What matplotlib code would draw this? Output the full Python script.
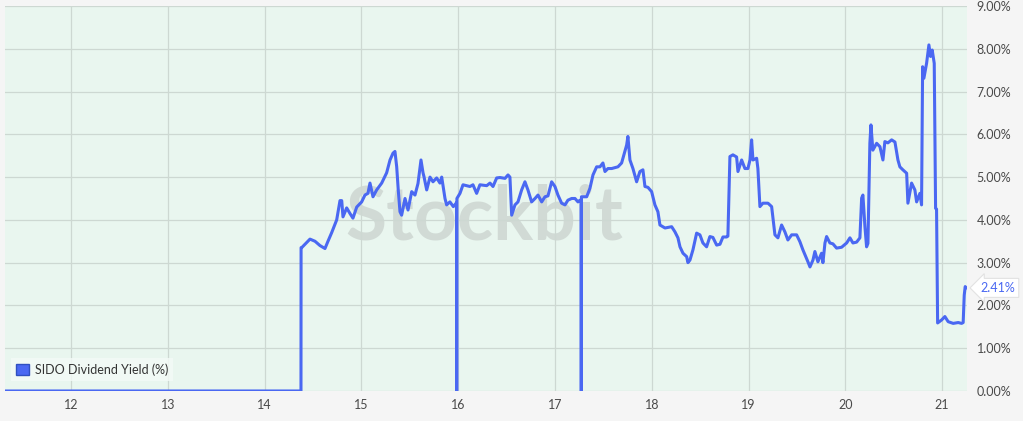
import matplotlib
matplotlib.use('Agg')
import matplotlib.pyplot as plt
from matplotlib.patches import Patch
import matplotlib.transforms as mtransforms

plt.rcParams['font.family'] = ['Lato', 'DejaVu Sans']

# time in years (12 = 2012), dividend yield in %
years = [
    11.318, 14.376, 14.377, 14.383, 14.469, 14.521, 14.572, 14.624, 14.655,
    14.693, 14.745, 14.779, 14.797, 14.810, 14.848, 14.882, 14.913, 14.952,
    15.003, 15.037, 15.068, 15.089, 15.120, 15.158, 15.210, 15.261, 15.296,
    15.327, 15.347, 15.365, 15.381, 15.399, 15.416, 15.451, 15.482, 15.520,
    15.554, 15.585, 15.616, 15.637, 15.647, 15.675, 15.709, 15.740, 15.778,
    15.812, 15.830, 15.864, 15.881, 15.915, 15.950, 15.983, 15.985, 15.987,
    16.019, 16.050, 16.122, 16.153, 16.191, 16.225, 16.295, 16.329, 16.360,
    16.398, 16.432, 16.484, 16.515, 16.535, 16.553, 16.587, 16.618, 16.656,
    16.690, 16.721, 16.759, 16.794, 16.825, 16.863, 16.897, 16.928, 16.966,
    17.000, 17.031, 17.069, 17.104, 17.134, 17.173, 17.207, 17.238, 17.258,
    17.270, 17.272, 17.274, 17.290, 17.328, 17.362, 17.393, 17.431, 17.465,
    17.496, 17.517, 17.548, 17.586, 17.620, 17.651, 17.689, 17.723, 17.741,
    17.754, 17.775, 17.793, 17.806, 17.844, 17.878, 17.909, 17.930, 17.961,
    17.999, 18.033, 18.064, 18.085, 18.137, 18.206, 18.240, 18.271, 18.292,
    18.323, 18.361, 18.374, 18.395, 18.426, 18.464, 18.498, 18.529, 18.567,
    18.601, 18.632, 18.671, 18.705, 18.736, 18.774, 18.787, 18.808, 18.839,
    18.877, 18.891, 18.929, 18.963, 18.994, 19.015, 19.032, 19.046, 19.084,
    19.097, 19.118, 19.149, 19.201, 19.239, 19.273, 19.304, 19.342, 19.376,
    19.407, 19.446, 19.497, 19.531, 19.562, 19.614, 19.635, 19.666, 19.686,
    19.717, 19.755, 19.769, 19.790, 19.807, 19.841, 19.872, 19.910, 19.962,
    20.014, 20.048, 20.079, 20.117, 20.151, 20.169, 20.182, 20.203, 20.220,
    20.234, 20.254, 20.265, 20.285, 20.324, 20.358, 20.389, 20.409, 20.440,
    20.479, 20.513, 20.544, 20.564, 20.595, 20.634, 20.647, 20.685, 20.719,
    20.737, 20.771, 20.788, 20.799, 20.812, 20.840, 20.864, 20.881, 20.898,
    20.919, 20.933, 20.943, 20.954, 20.995, 21.029, 21.063, 21.115, 21.167,
    21.202, 21.218, 21.229, 21.239, 21.246,
]
yield_pct = [
    0.00, 0.00, 3.35, 3.35, 3.55, 3.50, 3.40, 3.33, 3.50,
    3.70, 4.00, 4.45, 4.45, 4.07, 4.28, 4.15, 4.04, 4.30,
    4.42, 4.58, 4.62, 4.86, 4.54, 4.70, 4.86, 5.10, 5.40,
    5.56, 5.60, 5.24, 4.70, 4.19, 4.11, 4.50, 4.23, 4.66,
    4.58, 4.85, 5.40, 5.10, 5.01, 4.70, 5.00, 4.89, 4.98,
    4.86, 5.00, 4.50, 4.35, 4.42, 4.31, 4.40, 0.00, 4.50,
    4.62, 4.82, 4.78, 4.82, 4.62, 4.82, 4.80, 4.86, 4.78,
    4.98, 4.99, 4.97, 5.05, 5.00, 4.11, 4.35, 4.42, 4.70,
    4.89, 4.70, 4.42, 4.50, 4.58, 4.42, 4.54, 4.56, 4.89,
    4.78, 4.58, 4.39, 4.35, 4.46, 4.50, 4.50, 4.42, 4.46,
    4.46, 0.00, 4.54, 4.54, 4.54, 4.74, 5.05, 5.24, 5.24,
    5.33, 5.13, 5.20, 5.20, 5.22, 5.24, 5.33, 5.60, 5.75,
    5.95, 5.40, 5.28, 5.20, 4.89, 5.13, 5.17, 4.78, 4.76,
    4.66, 4.35, 4.19, 3.88, 3.81, 3.84, 3.72, 3.58, 3.37,
    3.22, 3.14, 3.00, 3.06, 3.30, 3.69, 3.65, 3.46, 3.37,
    3.61, 3.59, 3.41, 3.43, 3.60, 3.60, 3.62, 5.48, 5.52,
    5.47, 5.13, 5.40, 5.20, 5.20, 5.40, 5.87, 5.40, 5.44,
    5.20, 4.31, 4.39, 4.39, 4.31, 3.65, 3.58, 3.88, 3.72,
    3.53, 3.65, 3.65, 3.49, 3.30, 3.02, 2.90, 3.06, 3.26,
    3.02, 3.22, 3.00, 3.46, 3.61, 3.46, 3.44, 3.34, 3.36,
    3.46, 3.58, 3.46, 3.48, 3.58, 4.51, 4.58, 3.84, 3.37,
    3.45, 5.79, 6.22, 5.63, 5.79, 5.71, 5.40, 5.83, 5.80,
    5.87, 5.82, 5.40, 5.24, 5.17, 5.09, 4.39, 4.86, 4.70,
    4.42, 4.62, 4.35, 7.58, 7.31, 7.66, 8.09, 7.82, 7.97,
    7.66, 4.27, 4.25, 1.59, 1.66, 1.74, 1.62, 1.58, 1.60,
    1.58, 1.60, 2.24, 2.44, 2.41,
]

x_ticks = [12, 13, 14, 15, 16, 17, 18, 19, 20, 21]
x_labels = ['12', '13', '14', '15', '16', '17', '18', '19', '20', '21']
y_ticks = [0, 1, 2, 3, 4, 5, 6, 7, 8, 9]

line_color = '#4a68f2'

fig = plt.figure(figsize=(10.23, 4.21), dpi=100, facecolor='#f5f5f5')
ax = fig.add_axes([0.0049, 0.0713, 0.9404, 0.9145])
ax.set_facecolor('#e9f6ef')

ax.plot(years, yield_pct, color=line_color, linewidth=2.2, solid_joinstyle='round', zorder=3)

ax.set_xlim(11.318, 21.258)
ax.set_ylim(0, 9)
ax.set_xticks(x_ticks)
ax.set_xticklabels(x_labels)
ax.set_yticks(y_ticks)
ax.set_yticklabels([f'{v:.2f}%' for v in y_ticks])
ax.yaxis.tick_right()
ax.tick_params(axis='both', length=0, labelsize=9, colors='#4a4a4a')
ax.tick_params(axis='y', pad=7)
ax.tick_params(axis='x', pad=6)
ax.grid(True, color='#cdd8d2', linewidth=0.9, zorder=0)
for s in ax.spines.values():
    s.set_visible(False)

# watermark
ax.text(0.498, 0.45, 'Stockbit', transform=ax.transAxes, fontsize=54,
        color='#8a8a8a', alpha=0.25, ha='center', va='center',
        fontweight='bold', family=['Lato', 'DejaVu Sans'], zorder=1)

# last value marker
trans = mtransforms.blended_transform_factory(ax.transAxes, ax.transData)
ax.text(1.014, yield_pct[-1], f'{yield_pct[-1]:.2f}%', transform=trans,
        fontsize=9, color=line_color, ha='left', va='center',
        bbox=dict(boxstyle='larrow,pad=0.28', fc='white', ec='#e2e2e2', lw=0.8),
        clip_on=False, zorder=5)

leg = ax.legend(handles=[Patch(facecolor=line_color, edgecolor='#3050c0', label='SIDO Dividend Yield (%)')],
                loc='lower left', bbox_to_anchor=(0.0, 0.01), fontsize=9,
                handlelength=1.0, handleheight=1.0, handletextpad=0.5,
                borderpad=0.4, frameon=True, fancybox=False)
leg.get_frame().set_facecolor('#f4faf7')
leg.get_frame().set_edgecolor('none')
leg.get_frame().set_alpha(0.8)
for t in leg.get_texts():
    t.set_color('#333333')

fig.savefig('out.png', dpi=100, facecolor=fig.get_facecolor())
